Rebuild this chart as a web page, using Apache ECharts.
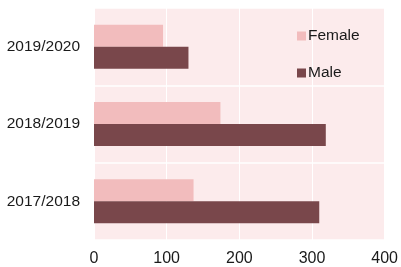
<!DOCTYPE html>
<html><head><meta charset="utf-8">
<script src="https://cdn.jsdelivr.net/npm/echarts@6/dist/echarts.min.js"></script>
<style>html,body{margin:0;padding:0;background:#fff}#c{width:401px;height:267px}</style>
</head><body><div id="c"></div>
<script>
const categories = ['2017/2018', '2018/2019', '2019/2020'];
const female = [137, 174, 95];
const male = [310, 319, 130];
const xTicks = [0, 100, 200, 300, 400];

const chart = echarts.init(document.getElementById('c'), null, {renderer: 'canvas'});
const font = 'Liberation Sans, Arial, sans-serif';
chart.setOption({
  animation: false,
  grid: {left: 94, right: 15, top: 8, bottom: 25, show: true, backgroundColor: '#fcebec', borderWidth: 0},
  legend: {
    data: ['Female', 'Male'], orient: 'vertical', left: 292, top: 23,
    itemWidth: 9, itemHeight: 9, itemGap: 21, icon: 'rect',
    textStyle: {fontFamily: font, fontSize: 15.5, color: '#1a1a1a', padding: [0,0,0,-3]}
  },
  xAxis: {
    type: 'value', min: xTicks[0], max: xTicks[xTicks.length-1], interval: 100,
    axisLine: {show: false}, axisTick: {show: false},
    axisLabel: {fontFamily: font, fontSize: 16, color: '#1a1a1a', margin: 11},
    splitLine: {show: true, lineStyle: {color: '#ffffff', width: 1}}
  },
  yAxis: {
    type: 'category', data: categories,
    axisLine: {show: false}, axisTick: {show: false},
    axisLabel: {fontFamily: font, fontSize: 15.5, color: '#1a1a1a', margin: 14},
    splitLine: {show: true, lineStyle: {color: '#ffffff', width: 1.5}}
  },
  series: [
    {name: 'Female', type: 'bar', data: female, barWidth: 22, barGap: '0%', itemStyle: {color: '#f2bcbd'}},
    {name: 'Male', type: 'bar', data: male, barWidth: 22, barGap: '0%', itemStyle: {color: '#79474b'}}
  ]
});
</script></body></html>
